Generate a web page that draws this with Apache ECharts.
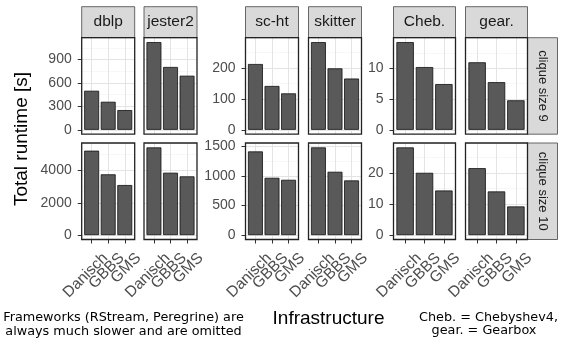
<!DOCTYPE html>
<html>
<head>
<meta charset="utf-8">
<script src="https://cdn.jsdelivr.net/npm/echarts@6/dist/echarts.min.js"></script>
<style>
  html, body { margin: 0; padding: 0; background: #ffffff; }
  #chart { width: 561px; height: 341px; }
</style>
</head>
<body>
<div id="chart"></div>
<script>
// Algorithms on the x axis of every panel
const categories = ['Danisch', 'GBBS', 'GMS'];
// Graph datasets, one facet column each
const datasets = ['dblp', 'jester2', 'sc-ht', 'skitter', 'Cheb.', 'gear.'];
const rowLabels = ['clique size 9', 'clique size 10'];

// Total runtime in seconds, one entry per dataset (same order as datasets)
const danisch9  = [501, 1125, 213, 284, 14.26, 10.98];
const gbbs9     = [360, 806, 142, 199, 10.2, 7.75];
const gms9      = [253, 694, 118, 166, 7.43, 4.8];
const danisch10 = [5236, 5440, 1418, 1486, 28.3, 21.6];
const gbbs10    = [3770, 3870, 971, 1073, 20.1, 14.1];
const gms10     = [3106, 3644, 937, 927, 14.4, 9.26];

// y tick spacing for each dataset pair (a pair shares one y scale per row)
const tickStep9  = [300, 100, 5];
const tickStep10 = [2000, 500, 10];

// ---- layout (pixels) ----
const colLeft = [81.7, 144, 245.5, 308.5, 393.5, 465.5];
const colWidth = [53, 53, 53, 53, 62, 62];
const rowTop = [37.7, 143];
const rowHeight = 96.5;
const stripTop = 6.7, stripH = 31;
const sideStripLeft = 527.5, sideStripW = 30;
const xLabelShift = 8;   // rotated labels end a little right of their tick

const AXIS_FONT = 'Liberation Sans';
const GRID_MAJOR = '#e4e4e4';
const GRID_MINOR = '#f1f1f1';

const grids = [], xAxes = [], yAxes = [], series = [], graphics = [];

const rows = [
  { label: rowLabels[0], d: danisch9, g: gbbs9, m: gms9, steps: tickStep9 },
  { label: rowLabels[1], d: danisch10, g: gbbs10, m: gms10, steps: tickStep10 }
];

rows.forEach((row, r) => {
  const top = rowTop[r];
  // ggplot-style 5% expansion below zero and above the tallest bar
  const dataH = rowHeight * 1.05 / 1.1;
  const bottomRow = r === rows.length - 1;

  datasets.forEach((name, c) => {
    const pair = Math.floor(c / 2);
    const vals = [row.d[c], row.g[c], row.m[c]];
    const pairVals = [2 * pair, 2 * pair + 1].flatMap(k => [row.d[k], row.g[k], row.m[k]]);
    const peak = Math.max(...pairVals);
    const yMax = peak * 1.05;
    const step = row.steps[pair];
    const left = colLeft[c], W = colWidth[c], u = W / 3.2;
    const firstInPair = c % 2 === 0;
    const ticks = [];
    for (let v = 0; v <= yMax + 1e-9; v += step) ticks.push(v);

    // horizontal grid lines + y axis labels
    let gi = grids.length;
    grids.push({ left: left, top: top, width: W, height: dataH, outerBoundsMode: 'none', containLabel: false });
    xAxes.push({ gridIndex: gi, type: 'value', show: false, min: 0, max: 1 });
    yAxes.push({
      gridIndex: gi, type: 'value', min: 0, max: yMax, interval: step / 2, position: 'right',
      axisLine: { show: false }, axisTick: { show: false }, axisLabel: { show: false },
      splitLine: { show: true, lineStyle: { color: GRID_MINOR, width: 0.6 } }
    });
    yAxes.push({
      gridIndex: gi, type: 'value', min: 0, max: yMax, interval: step, position: 'left',
      axisLine: { show: false },
      axisTick: { show: firstInPair, length: 4, customValues: ticks, lineStyle: { color: '#333333', width: 1 } },
      axisLabel: { show: firstInPair, customValues: ticks, margin: 10, color: '#4d4d4d',
                   fontFamily: AXIS_FONT, fontSize: 14, hideOverlap: false,
                   formatter: v => String(v) },
      splitLine: { show: true, lineStyle: { color: GRID_MAJOR, width: 1 } }
    });

    // vertical grid lines and x ticks at the bar centres
    gi = grids.length;
    grids.push({ left: left + 0.6 * u, top: top, width: 2 * u, height: rowHeight, outerBoundsMode: 'none', containLabel: false });
    xAxes.push({
      gridIndex: gi, type: 'category', data: categories, boundaryGap: false,
      axisLine: { show: false },
      axisTick: { show: bottomRow, interval: 0, length: 4, lineStyle: { color: '#333333', width: 1 } },
      axisLabel: { show: false },
      splitLine: { show: true, interval: 0, lineStyle: { color: GRID_MAJOR, width: 1 } }
    });
    yAxes.push({ gridIndex: gi, type: 'value', show: false, min: 0, max: 1 });

    // rotated category labels under the bottom row
    if (bottomRow) {
      gi = grids.length;
      grids.push({ left: left + 0.6 * u + xLabelShift, top: top, width: 2 * u, height: rowHeight, outerBoundsMode: 'none', containLabel: false });
      xAxes.push({
        gridIndex: gi, type: 'category', data: categories, boundaryGap: false,
        axisLine: { show: false }, axisTick: { show: false }, splitLine: { show: false },
        axisLabel: { show: true, interval: 0, rotate: 45, align: 'right', verticalAlign: 'top',
                     margin: 10.5, color: '#4d4d4d', fontFamily: AXIS_FONT, fontSize: 15.5 }
      });
      yAxes.push({ gridIndex: gi, type: 'value', show: false, min: 0, max: 1 });
    }

    // the bars
    gi = grids.length;
    grids.push({ left: left + 0.1 * u, top: top, width: 3 * u, height: dataH, outerBoundsMode: 'none', containLabel: false });
    xAxes.push({ gridIndex: gi, type: 'category', data: categories, show: false });
    yAxes.push({ gridIndex: gi, type: 'value', show: false, min: 0, max: yMax });
    series.push({
      type: 'bar', name: name + ' / ' + row.label,
      xAxisIndex: xAxes.length - 1, yAxisIndex: yAxes.length - 1,
      data: vals, barWidth: '90%', silent: true,
      itemStyle: { color: '#595959', borderColor: '#111111', borderWidth: 0.8 }
    });

    // panel frame
    graphics.push({
      type: 'rect', z: 100, silent: true,
      shape: { x: left, y: top, width: W, height: rowHeight },
      style: { fill: 'none', stroke: '#222222', lineWidth: 1.3 }
    });

    // column strip on top
    if (r === 0) {
      graphics.push({
        type: 'rect', z: 99, silent: true,
        shape: { x: left, y: stripTop, width: W, height: stripH },
        style: { fill: '#d9d9d9', stroke: '#444444', lineWidth: 0.8 }
      });
      graphics.push({
        type: 'text', z: 101, silent: true, x: left + W / 2, y: stripTop + stripH / 2,
        style: { text: name, fill: '#1a1a1a', font: '15.5px "Liberation Sans"', align: 'center', verticalAlign: 'middle' }
      });
    }
  });

  // row strip on the right
  graphics.push({
    type: 'rect', z: 99, silent: true,
    shape: { x: sideStripLeft, y: top, width: sideStripW, height: rowHeight },
    style: { fill: '#d9d9d9', stroke: '#444444', lineWidth: 0.8 }
  });
  graphics.push({
    type: 'text', z: 101, silent: true, x: sideStripLeft + sideStripW / 2, y: top + rowHeight / 2,
    rotation: -Math.PI / 2,
    style: { text: row.label, fill: '#1a1a1a', font: '13px "Liberation Sans"', align: 'center', verticalAlign: 'middle' }
  });
});

// axis titles and notes
graphics.push({
  type: 'text', z: 101, silent: true, x: 21.7, y: 139, rotation: Math.PI / 2,
  style: { text: 'Total runtime [s]', fill: '#000000', font: '19px "Liberation Sans"', align: 'center', verticalAlign: 'middle' }
});
graphics.push({
  type: 'text', z: 101, silent: true, x: 328.5, y: 319,
  style: { text: 'Infrastructure', fill: '#000000', font: '19px "Liberation Sans"', align: 'center', verticalAlign: 'middle' }
});
graphics.push({
  type: 'text', z: 101, silent: true, x: 123.5, y: 318,
  style: { text: 'Frameworks (RStream, Peregrine) are', fill: '#000000', font: '12.8px "DejaVu Sans"', align: 'center', verticalAlign: 'middle' }
});
graphics.push({
  type: 'text', z: 101, silent: true, x: 123.5, y: 331.5,
  style: { text: 'always much slower and are omitted', fill: '#000000', font: '12.8px "DejaVu Sans"', align: 'center', verticalAlign: 'middle' }
});
graphics.push({
  type: 'text', z: 101, silent: true, x: 488.5, y: 317.5,
  style: { text: 'Cheb. = Chebyshev4,', fill: '#000000', font: '12.8px "DejaVu Sans"', align: 'center', verticalAlign: 'middle' }
});
graphics.push({
  type: 'text', z: 101, silent: true, x: 484, y: 330.5,
  style: { text: 'gear. = Gearbox', fill: '#000000', font: '12.8px "DejaVu Sans"', align: 'center', verticalAlign: 'middle' }
});

const chart = echarts.init(document.getElementById('chart'), null, { renderer: 'canvas' });
chart.setOption({
  animation: false,
  backgroundColor: '#ffffff',
  grid: grids,
  xAxis: xAxes,
  yAxis: yAxes,
  series: series,
  graphic: { elements: graphics }
});
</script>
</body>
</html>
